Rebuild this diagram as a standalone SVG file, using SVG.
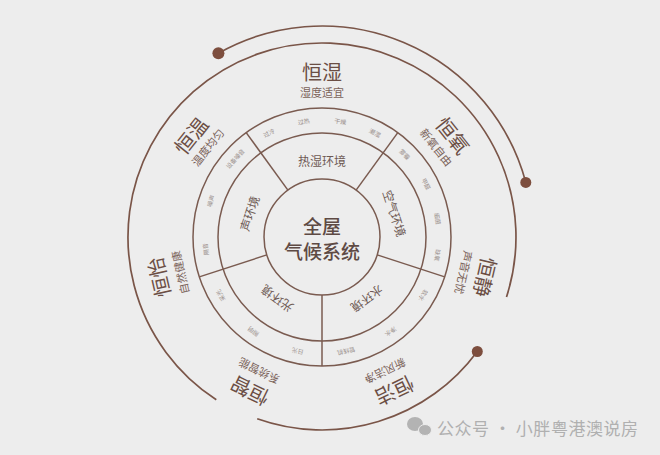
<svg xmlns="http://www.w3.org/2000/svg" width="660" height="455" viewBox="0 0 660 455">
<style>
.ln{fill:none;stroke:#7a5b50;stroke-width:1.5}
.arc{fill:none;stroke:#7a5548;stroke-width:1.7}
.dot{fill:#7d4e3e}
.ctr{font-family:"Noto Sans CJK SC","Noto Sans",sans-serif;font-size:19px;font-weight:500;fill:#5e4a44;text-anchor:middle}
.sec{font-family:"Noto Sans CJK SC","Noto Sans",sans-serif;font-size:12px;fill:#6e5a54;text-anchor:middle;dominant-baseline:central}
.sm{font-family:"Noto Sans CJK SC","Noto Sans",sans-serif;font-size:6px;fill:#9a8f8c;text-anchor:middle;dominant-baseline:central}
.big{font-family:"Noto Sans CJK SC","Noto Sans",sans-serif;font-size:20px;fill:#6b4e44;text-anchor:middle;dominant-baseline:central}
.sub{font-family:"Noto Sans CJK SC","Noto Sans",sans-serif;font-size:11px;fill:#7a6259;text-anchor:middle;dominant-baseline:central}
.wm{font-family:"Noto Sans CJK SC","Noto Sans",sans-serif;font-size:17px;fill:#b0b0b0}
</style>
<rect width="660" height="455" fill="#ededed"/>
<g id="rings">
<circle class="ln" cx="322" cy="237" r="58"/>
<circle class="ln" cx="322" cy="237" r="104"/>
<circle class="ln" cx="322" cy="237" r="129"/>
</g>
<g id="connectors">
<line class="ln" x1="287.9" y1="190.1" x2="246.2" y2="132.6"/>
<line class="ln" x1="356.1" y1="190.1" x2="397.8" y2="132.6"/>
<line class="ln" x1="377.2" y1="254.9" x2="444.7" y2="276.9"/>
<line class="ln" x1="322" y1="295" x2="322" y2="366"/>
<line class="ln" x1="266.8" y1="254.9" x2="199.3" y2="276.9"/>
<path class="arc" d="M218.4,53.2 A211,211 0 0 1 525.8,182.4"/>
<path class="arc" d="M216.3,399.7 A194,194 0 1 1 506.5,296.9"/>
<path class="arc" d="M477.3,351.5 A193,193 0 0 1 257.2,418.8"/>
<circle class="dot" cx="218.4" cy="53.2" r="6"/>
<circle class="dot" cx="525.8" cy="182.4" r="5.5"/>
<circle class="dot" cx="477.3" cy="351.5" r="5.5"/>
</g>
<g id="center">
<text class="ctr" x="322" y="234">全屋</text>
<text class="ctr" x="322" y="259">气候系统</text>
</g>
<g id="env-heat">
<text class="sec" transform="translate(322,160)">热湿环境</text>
<text class="sm" transform="translate(268.9,132.8) rotate(-27)">过冷</text>
<text class="sm" transform="translate(303.7,121.4) rotate(-9)">过热</text>
<text class="sm" transform="translate(340.3,121.4) rotate(9)">干燥</text>
<text class="sm" transform="translate(375.1,132.8) rotate(27)">潮湿</text>
</g>
<g id="env-air">
<text class="sec" transform="translate(395.2,213.2) rotate(72)">空气环境</text>
<text class="sm" transform="translate(404.7,154.3) rotate(45)">雾霾</text>
<text class="sm" transform="translate(426.2,183.9) rotate(63)">甲醛</text>
<text class="sm" transform="translate(437.6,218.7) rotate(81)">细菌</text>
<text class="sm" transform="translate(437.6,255.3) rotate(99)">缺氧</text>
</g>
<g id="env-water">
<text class="sec" transform="translate(367.3,299.3) rotate(144)">水环境</text>
<text class="sm" transform="translate(423.3,295.5) rotate(120)">软水</text>
<text class="sm" transform="translate(390.8,331.7) rotate(144)">净水</text>
<text class="sm" transform="translate(346.3,351.4) rotate(168)">管线机</text>
</g>
<g id="env-light">
<text class="sec" transform="translate(276.7,299.3) rotate(216)">光环境</text>
<text class="sm" transform="translate(297.7,351.4) rotate(192)">日光</text>
<text class="sm" transform="translate(253.2,331.7) rotate(216)">照明</text>
<text class="sm" transform="translate(220.7,295.5) rotate(240)">采光</text>
</g>
<g id="env-sound">
<text class="sec" transform="translate(248.8,213.2) rotate(288)">声环境</text>
<text class="sm" transform="translate(205.6,249.2) rotate(264)">隔音</text>
<text class="sm" transform="translate(210.7,200.8) rotate(288)">噪声</text>
<text class="sm" transform="translate(235.1,158.7) rotate(312)">设备噪音</text>
</g>
<g id="heng-shi">
<text class="big" x="322" y="71">恒湿</text>
<text class="sub" x="322" y="92">湿度适宜</text>
</g>
<g id="heng-yang">
<text class="big" transform="translate(453.3,135.2) rotate(51.4)">恒氧</text>
<text class="sub" transform="translate(436.8,146.9) rotate(51.4)">新氧自由</text>
</g>
<g id="heng-jing">
<text class="big" transform="translate(485.8,277.5) rotate(102.9)">恒静</text>
<text class="sub" transform="translate(464.3,272.6) rotate(102.9)">声音无忧</text>
</g>
<g id="heng-jie">
<text class="big" transform="translate(394.8,391.4) rotate(154.3)">恒洁</text>
<text class="sub" transform="translate(385.3,371.6) rotate(154.3)">新风洁净</text>
</g>
<g id="heng-zhi">
<text class="big" transform="translate(249.2,391.4) rotate(205.7)">恒智</text>
<text class="sub" transform="translate(258.7,371.6) rotate(205.7)">系统智能</text>
</g>
<g id="heng-yi">
<text class="big" transform="translate(158.2,277.5) rotate(257.1)">恒怡</text>
<text class="sub" transform="translate(179.7,272.6) rotate(257.1)">自然健康</text>
</g>
<g id="heng-wen">
<text class="big" transform="translate(190.7,135.2) rotate(308.6)">恒温</text>
<text class="sub" transform="translate(207.2,146.9) rotate(308.6)">温度均匀</text>
</g>
<g id="watermark">
<ellipse cx="415" cy="424" rx="8" ry="7" fill="#b3b3b3"/>
<ellipse cx="425" cy="430" rx="6.5" ry="5.5" fill="#b3b3b3" stroke="#ededed" stroke-width="1"/>
<text class="wm" x="437" y="435" textLength="201" lengthAdjust="spacing">公众号 · 小胖粤港澳说房</text>
</g>
</svg>
